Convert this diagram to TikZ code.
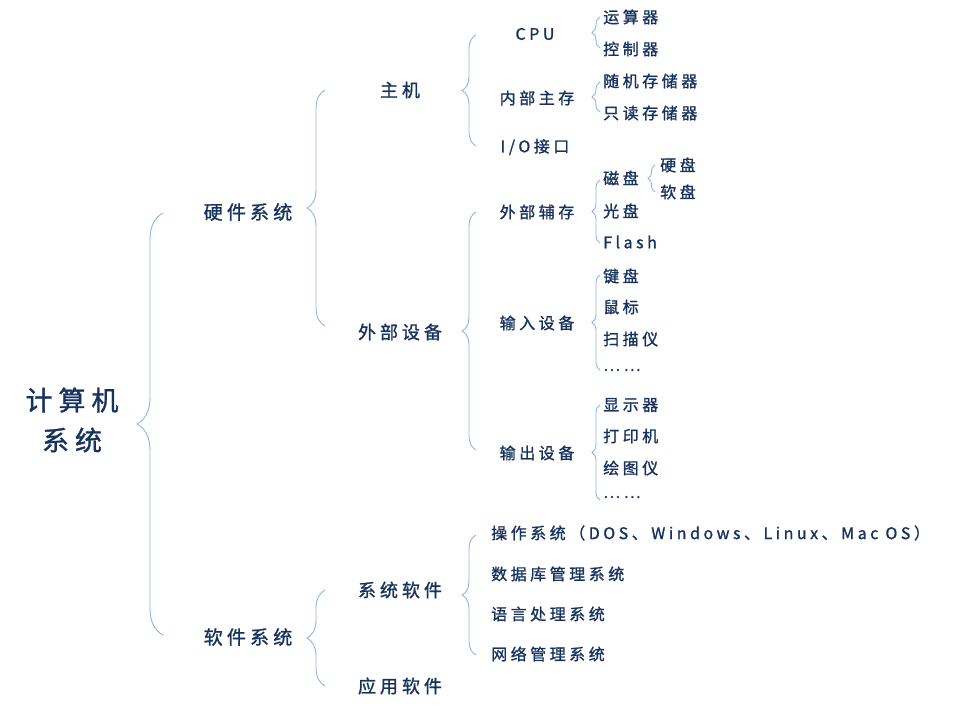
\documentclass[tikz,border=0pt]{standalone}
\usepackage{fontspec}
\setmainfont{Noto Sans CJK SC}[LetterSpace=22,FakeBold=1.2]
\usetikzlibrary{decorations.pathreplacing}
\definecolor{txt}{HTML}{17325E}
\definecolor{brc}{HTML}{8EB4E3}
\tikzset{
  lbl/.style={text=txt,font=\fontsize{16}{19}\selectfont,inner sep=0pt},
  lvl1/.style={lbl,font=\fontsize{19}{22}\selectfont},
  lvl2/.style={lbl,font=\fontsize{18}{21}\selectfont},
  leaf/.style={lbl,anchor=west},
  brc/.style={draw=brc,line width=0.9pt,decorate,decoration={brace,amplitude=#1}},
}
\newcommand{\brc}[4]{\draw[brc=#4] (#1,#2) -- (#1,#3);}
\begin{document}
\begin{tikzpicture}[x=1pt,y=-1pt]
\useasboundingbox (0,0) rectangle (958,716);
\node[lbl,font=\fontsize{27}{40}\selectfont,align=center] (root) at (72,420) {计算机\\系统};
\node[lvl1] (hw) at (248,212) {硬件系统};
\node[lvl1] (sw) at (248,637) {软件系统};
\node[lvl2] (zj) at (400,90) {主机};
\node[lvl2] (wb) at (400,332) {外部设备};
\node[lvl2] (xt) at (400,590) {系统软件};
\node[lvl2] (yy) at (400,686) {应用软件};
\node[lbl] (cpu) at (535,34) {CPU};
\node[lbl] (nb) at (537,98) {内部主存};
\node[lbl] (io) at (535,147) {I/O接口};
\node[lbl] (fc) at (537,212) {外部辅存};
\node[lbl] (sr) at (537,323) {输入设备};
\node[lbl] (sc) at (537,453) {输出设备};
\foreach \n/\y/\t in {a/17/运算器,b/49/控制器,c/81/随机存储器,d/113/只读存储器,e/178/磁盘,f/211/光盘,g/242/Flash,h/276/键盘,i/307/鼠标,j/339/扫描仪,k/370/……,l/405/显示器,m/436/打印机,n/468/绘图仪,o/497/……}
  \node[leaf] (\n) at (603,\y) {\t};
\node[leaf] (yp) at (660,165) {硬盘};
\node[leaf] (rp) at (660,192) {软盘};
\foreach \n/\y/\t in {s1/533/操作系统（DOS、Windows、Linux、Mac OS）,s2/574/数据库管理系统,s3/614/语言处理系统,s4/654/网络管理系统}
  \node[leaf] (\n) at (491,\y) {\t};
\brc{163}{635}{213}{26}
\brc{325}{326}{90}{18}
\brc{476}{146}{35}{14}
\brc{600}{48}{17}{8}
\brc{600}{112}{82}{8}
\brc{655}{192}{165}{7}
\brc{476}{450}{212}{14}
\brc{600}{243}{180}{8}
\brc{600}{370}{275}{8}
\brc{600}{500}{405}{8}
\brc{325}{686}{590}{18}
\brc{476}{655}{535}{14}
\end{tikzpicture}
\end{document}
